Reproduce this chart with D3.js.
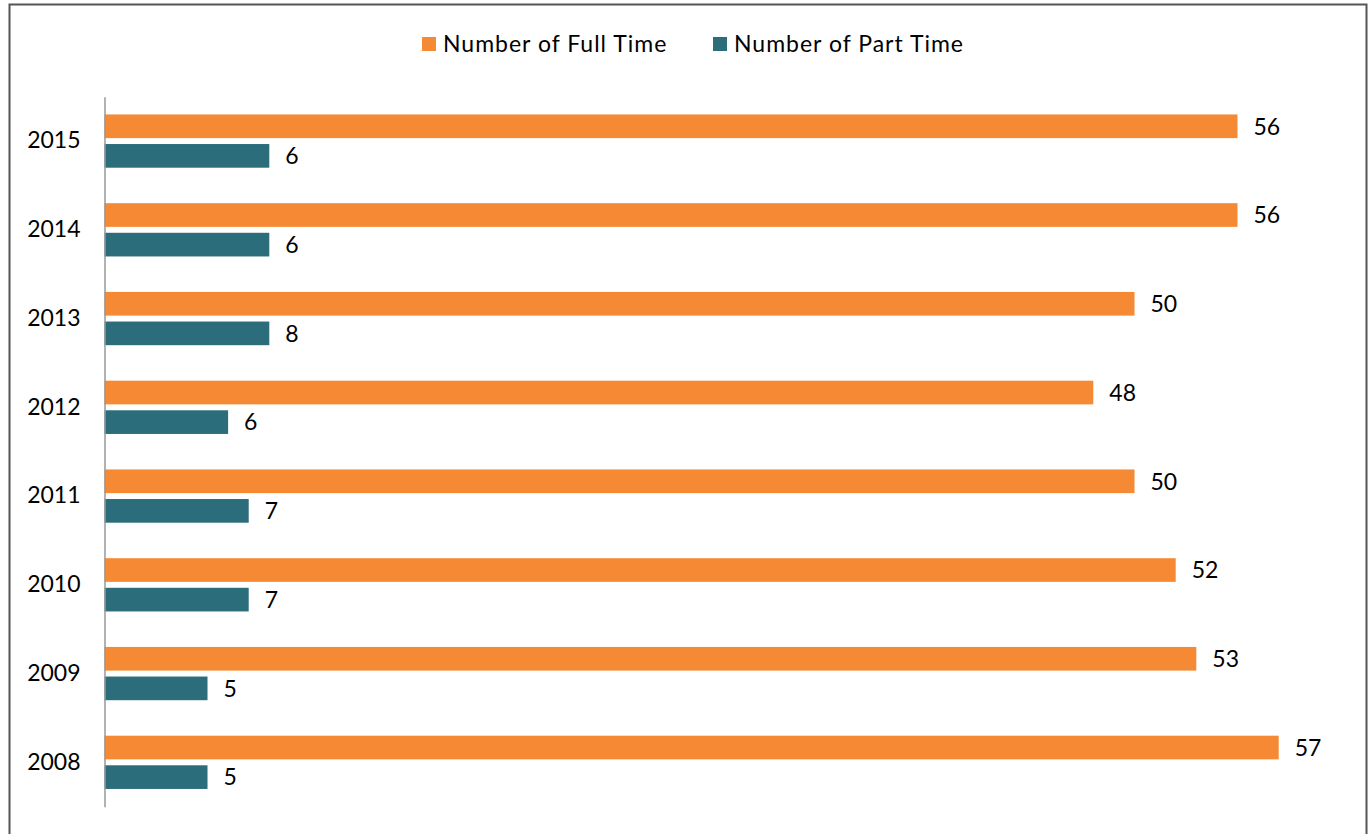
<!DOCTYPE html>
<html>
<head>
<meta charset="utf-8">
<script src="https://cdn.jsdelivr.net/npm/d3@7"></script>
<style>
  body { margin: 0; background: #fff; }
  svg { display: block; font-family: Lato, "Open Sans", sans-serif; }
</style>
</head>
<body>
<svg id="chart"></svg>
<script>
// years, top to bottom
const years = ["2015", "2014", "2013", "2012", "2011", "2010", "2009", "2008"];
// bar lengths as drawn in the picture
const fullTime = [55, 55, 50, 48, 50, 52, 53, 57];
const partTime = [8, 8, 8, 6, 7, 7, 5, 5];
// data labels as printed next to the bars
const fullTimeLabels = ["56", "56", "50", "48", "50", "52", "53", "57"];
const partTimeLabels = ["6", "6", "8", "6", "7", "7", "5", "5"];
const seriesNames = ["Number of Full Time", "Number of Part Time"];
const colors = ["#f68933", "#2b6d7a"];

const width = 1370, height = 834;
const svg = d3.select("#chart").attr("width", width).attr("height", height);

// frame
svg.append("rect")
    .attr("x", 9.5).attr("y", 4.5)
    .attr("width", 1357).attr("height", 840)
    .attr("fill", "none").attr("stroke", "#555").attr("stroke-width", 2);

const x = d3.scaleLinear().domain([0, 60]).range([104.5, 104.5 + 60 * 20.6]);
const y = d3.scaleBand().domain(years).range([96.7, 806.7])
    .paddingInner(0.4).paddingOuter(0.2);
const ySub = d3.scaleBand().domain([0, 1]).range([0, y.bandwidth()]).paddingInner(0.2);

const rows = years.map((yr, i) => ({
  year: yr,
  vals: [
    {s: 0, v: fullTime[i], label: fullTimeLabels[i]},
    {s: 1, v: partTime[i], label: partTimeLabels[i]}
  ]
}));

const g = svg.append("g").selectAll("g")
  .data(rows)
  .join("g")
    .attr("transform", d => `translate(0,${y(d.year)})`);

g.selectAll("rect")
  .data(d => d.vals)
  .join("rect")
    .attr("x", x(0))
    .attr("y", d => ySub(d.s))
    .attr("width", d => x(d.v) - x(0))
    .attr("height", ySub.bandwidth())
    .attr("fill", d => colors[d.s]);

g.selectAll("text")
  .data(d => d.vals)
  .join("text")
    .attr("x", d => x(d.v) + 16)
    .attr("y", d => ySub(d.s) + ySub.bandwidth() / 2)
    .attr("dy", "0.36em")
    .attr("font-size", 23)
    .attr("fill", "#000")
    .text(d => d.label);

// category axis
const yAxis = svg.append("g")
    .attr("transform", `translate(${x(0)},0)`)
    .call(d3.axisLeft(y).tickSize(0).tickSizeOuter(0).tickPadding(24));
yAxis.select(".domain").attr("stroke", "#999").attr("stroke-width", 1.5);
yAxis.selectAll("text").attr("font-size", 23).attr("fill", "#000")
    .attr("font-family", "Lato, 'Open Sans', sans-serif");

// legend
const legendX = [422, 713];
const legend = svg.append("g").selectAll("g")
  .data(seriesNames)
  .join("g")
    .attr("transform", (d, i) => `translate(${legendX[i]},37)`);
legend.append("rect")
    .attr("width", 14).attr("height", 14)
    .attr("fill", (d, i) => colors[i]);
legend.append("text")
    .attr("x", 21).attr("y", 7).attr("dy", "0.36em")
    .attr("font-size", 23).attr("letter-spacing", 1).attr("fill", "#000")
    .text(d => d);
</script>
</body>
</html>
